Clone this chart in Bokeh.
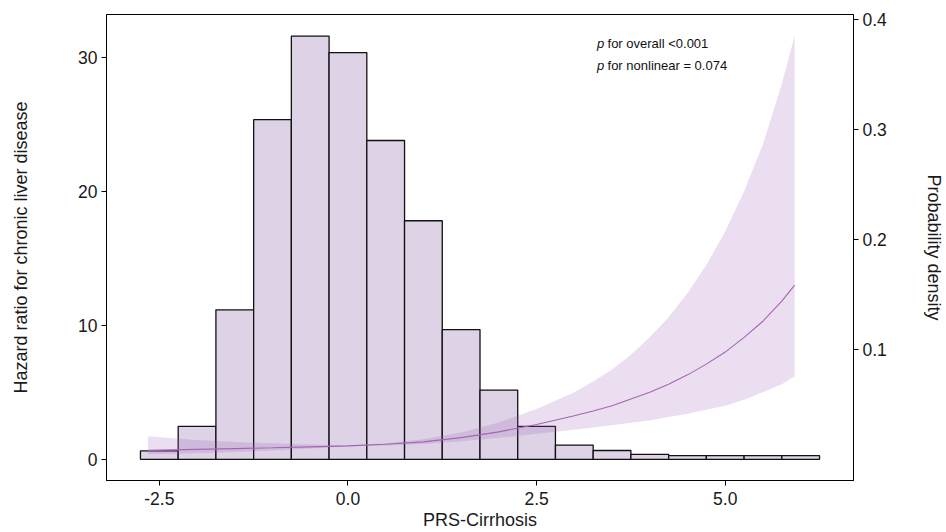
from bokeh.plotting import figure
from bokeh.models import Range1d, LinearAxis, FixedTicker, PrintfTickFormatter, Label
from bokeh.embed import file_html
from bokeh.resources import INLINE

# ---------------- data ----------------
hist_left = [-2.75, -2.25, -1.75, -1.25, -0.75, -0.25, 0.25, 0.75, 1.25,
             1.75, 2.25, 2.75, 3.25, 3.75, 4.25, 4.75, 5.25, 5.75]
hist_right = [-2.25, -1.75, -1.25, -0.75, -0.25, 0.25, 0.75, 1.25, 1.75,
              2.25, 2.75, 3.25, 3.75, 4.25, 4.75, 5.25, 5.75, 6.25]
hist_density = [0.0076, 0.030, 0.136, 0.309, 0.385, 0.370, 0.290, 0.217, 0.118,
                0.063, 0.030, 0.013, 0.008, 0.0045, 0.0033, 0.0033, 0.0033, 0.0033]

curve_x = [-2.65, -2.0, -1.5, -1.0, -0.5, 0.0, 0.5, 1.0, 1.5, 2.0, 2.5,
           3.0, 3.25, 3.5, 3.75, 4.0, 4.25, 4.5, 4.75, 5.0, 5.25, 5.5, 5.75, 5.92]
curve_hr = [0.67, 0.74, 0.80, 0.86, 0.93, 1.0, 1.12, 1.3, 1.62, 2.05, 2.6,
            3.25, 3.6, 4.0, 4.5, 5.0, 5.6, 6.3, 7.1, 8.0, 9.1, 10.3, 11.8, 13.0]
curve_lower = [0.37, 0.46, 0.55, 0.65, 0.80, 0.97, 1.04, 1.15, 1.35, 1.6, 1.9,
               2.2, 2.37, 2.55, 2.72, 2.9, 3.15, 3.4, 3.7, 4.0, 4.45, 5.0, 5.6, 6.2]
curve_upper = [1.73, 1.45, 1.30, 1.20, 1.10, 1.03, 1.2, 1.5, 2.0, 2.75, 3.75,
               5.0, 5.8, 6.7, 7.8, 9.1, 10.6, 12.4, 14.5, 17.0, 20.0, 23.5, 28.0, 31.6]

x_ticks = [-2.5, 0.0, 2.5, 5.0]
hr_ticks = [0, 10, 20, 30]
dens_ticks = [0.1, 0.2, 0.3, 0.4]

DENS_SCALE = 82.0          # hazard-ratio units per unit of density (secondary axis)
HR_MIN, HR_MAX = -1.58, 33.18
X_MIN, X_MAX = -3.2, 6.7

FONT = "Liberation Sans"

p = figure(width=946, height=532, output_backend="svg", toolbar_location=None,
           x_range=Range1d(X_MIN, X_MAX), y_range=Range1d(HR_MIN, HR_MAX),
           min_border_left=106, min_border_right=89, min_border_top=14,
           min_border_bottom=50)
p.extra_y_ranges = {"dens": Range1d(HR_MIN / DENS_SCALE, HR_MAX / DENS_SCALE)}

p.background_fill_color = "white"
p.border_fill_color = "white"
p.xgrid.visible = False
p.ygrid.visible = False
p.outline_line_color = "black"
p.outline_line_width = 1
p.outline_line_alpha = 1

# histogram (secondary axis)
p.quad(left=hist_left, right=hist_right, bottom=0, top=hist_density,
       y_range_name="dens", fill_color="#ddd2e6", line_color="#111111",
       line_width=1.3)

# confidence ribbon and HR line
p.varea(x=curve_x, y1=curve_lower, y2=curve_upper,
        fill_color="#9b59b6", fill_alpha=0.2)
p.line(curve_x, curve_hr, line_color="#a565b5", line_width=1.1)

# axes
p.xaxis.ticker = FixedTicker(ticks=x_ticks)
p.xaxis.formatter = PrintfTickFormatter(format="%.1f")
p.xaxis.axis_label = "PRS-Cirrhosis"
p.yaxis.ticker = FixedTicker(ticks=hr_ticks)
p.yaxis.axis_label = "Hazard ratio for chronic liver disease"

right = LinearAxis(y_range_name="dens", ticker=FixedTicker(ticks=dens_ticks),
                   formatter=PrintfTickFormatter(format="%.1f"),
                   axis_label="Probability density")
p.add_layout(right, "right")

for ax in [p.xaxis[0], p.yaxis[0], right]:
    ax.axis_line_color = "black"
    ax.axis_line_width = 1
    ax.major_tick_line_color = "black"
    ax.minor_tick_line_color = None
    ax.major_tick_out = 5
    ax.major_tick_in = 0
    ax.major_label_text_font = FONT
    ax.major_label_text_font_size = "17.5px"
    ax.major_label_text_color = "#1a1a1a"
    ax.axis_label_text_font = FONT
    ax.axis_label_text_font_size = "18px"
    ax.axis_label_text_font_style = "normal"
    ax.axis_label_text_color = "#1a1a1a"

p.xaxis[0].major_label_standoff = 6
p.xaxis[0].axis_label_standoff = 2
p.yaxis[0].major_label_standoff = 4
p.yaxis[0].axis_label_standoff = 44
right.major_label_standoff = 4
right.axis_label_standoff = 34

# p-value annotations
for txt_y, rest in [(31.0, "for overall <0.001"), (29.4, "for nonlinear = 0.074")]:
    p.add_layout(Label(x=3.30, y=txt_y, text="p", text_font=FONT,
                       text_font_style="italic", text_font_size="13px",
                       text_baseline="middle", text_color="#111111"))
    p.add_layout(Label(x=3.44, y=txt_y, text=rest, text_font=FONT,
                       text_font_size="13px", text_baseline="middle",
                       text_color="#111111"))

open("out.html", "w").write(file_html(p, INLINE))
